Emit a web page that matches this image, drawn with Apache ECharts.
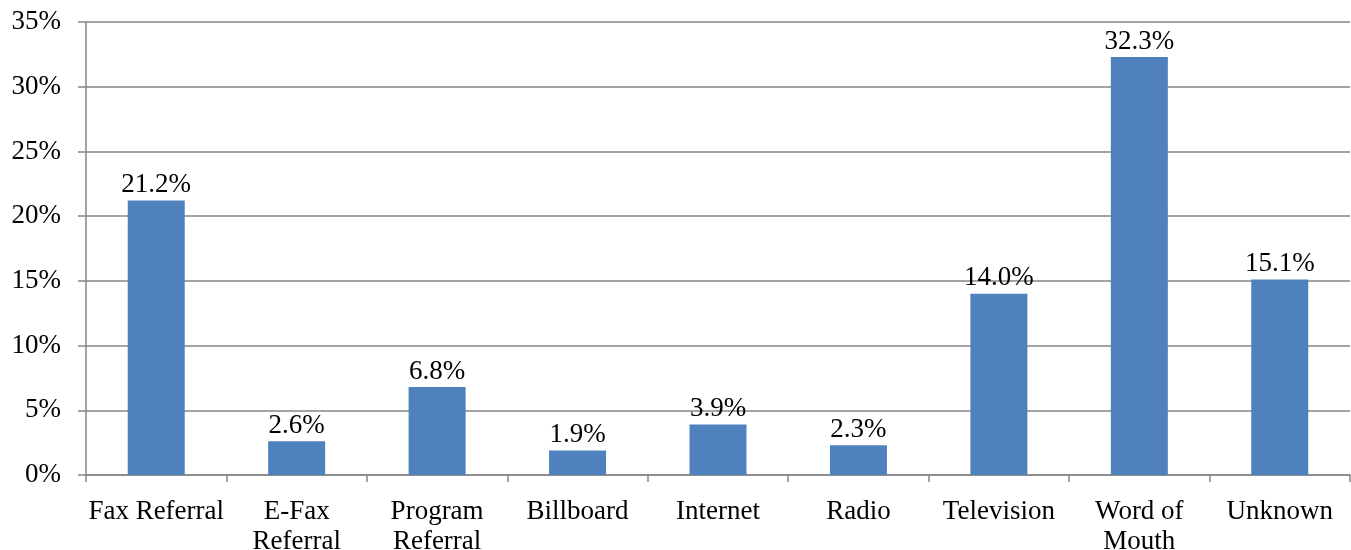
<!DOCTYPE html>
<html>
<head>
<meta charset="utf-8">
<script src="https://cdn.jsdelivr.net/npm/echarts@6/dist/echarts.min.js"></script>
<style>
html,body{margin:0;padding:0;background:#fff;}
#chart{width:1351px;height:550px;}
</style>
</head>
<body>
<div id="chart"></div>
<script>
var categories = ["Fax Referral", "E-Fax\nReferral", "Program\nReferral", "Billboard", "Internet", "Radio", "Television", "Word of\nMouth", "Unknown"];
var values = [21.2, 2.6, 6.8, 1.9, 3.9, 2.3, 14.0, 32.3, 15.1];

var FONT = "Liberation Serif";
var chart = echarts.init(document.getElementById('chart'), null, {renderer: 'canvas'});
chart.setOption({
  animation: false,
  grid: {left: 86, right: 1, top: 22, bottom: 75, containLabel: false, outerBoundsMode: 'none'},
  xAxis: {
    type: 'category',
    data: categories,
    axisLine: {show: true, lineStyle: {color: '#868686', width: 1.5}},
    axisTick: {show: true, length: 7, lineStyle: {color: '#868686', width: 1.5}},
    axisLabel: {color: '#000', fontFamily: FONT, fontSize: 27, margin: 22, lineHeight: 30, interval: 0}
  },
  yAxis: {
    type: 'value',
    min: 0, max: 35, interval: 5,
    axisLine: {show: true, lineStyle: {color: '#868686', width: 1.5}},
    axisTick: {show: true, length: 8, lineStyle: {color: '#868686', width: 1.5}},
    splitLine: {show: true, lineStyle: {color: '#868686', width: 1.5}},
    axisLabel: {color: '#000', fontFamily: FONT, fontSize: 27, margin: 25, formatter: '{value}%'}
  },
  series: [{
    type: 'bar',
    data: values,
    barWidth: 57,
    itemStyle: {color: '#4F81BD'},
    label: {
      show: true, position: 'top', distance: 2,
      color: '#000', fontFamily: FONT, fontSize: 27,
      formatter: function(p){ return p.value.toFixed(1) + '%'; }
    }
  }]
});
</script>
</body>
</html>
